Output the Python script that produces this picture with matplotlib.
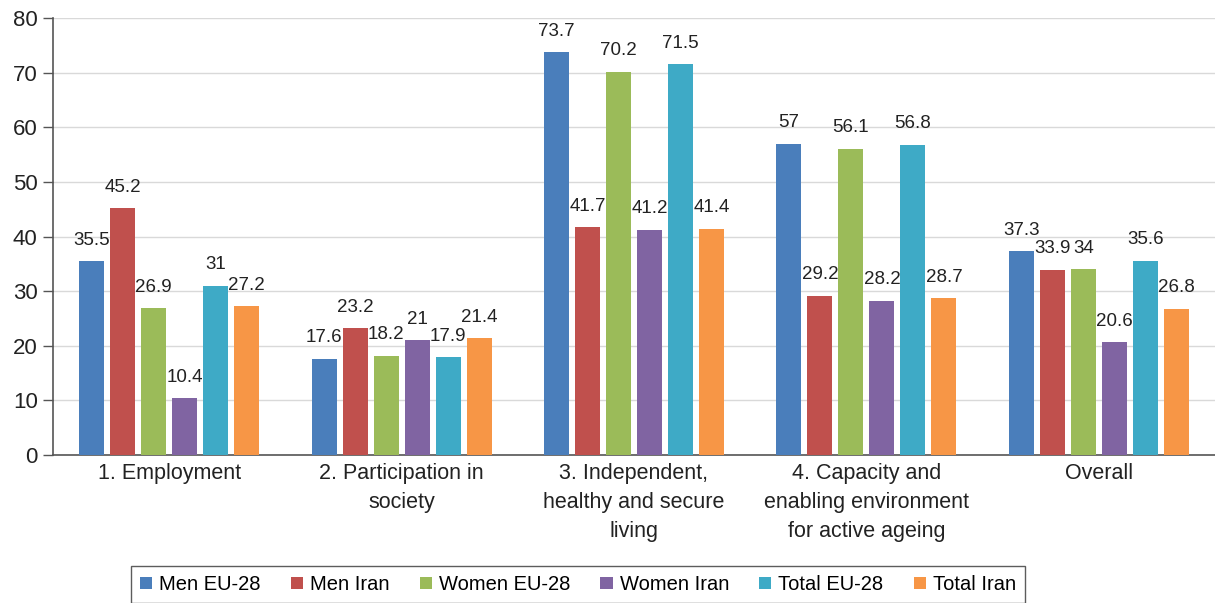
import numpy as np
import matplotlib.pyplot as plt

plt.rcParams['font.family'] = ['Liberation Sans', 'DejaVu Sans']

# Data
categories = ['1. Employment', '2. Participation in\nsociety',
              '3. Independent,\nhealthy and secure\nliving',
              '4. Capacity and\nenabling environment\nfor active ageing',
              'Overall']
series_names = ['Men EU-28', 'Men Iran', 'Women EU-28', 'Women Iran', 'Total EU-28', 'Total Iran']
men_eu = [35.5, 17.6, 73.7, 57, 37.3]
men_iran = [45.2, 23.2, 41.7, 29.2, 33.9]
women_eu = [26.9, 18.2, 70.2, 56.1, 34]
women_iran = [10.4, 21, 41.2, 28.2, 20.6]
total_eu = [31, 17.9, 71.5, 56.8, 35.6]
total_iran = [27.2, 21.4, 41.4, 28.7, 26.8]
colors = ['#4a7ebb', '#c0504d', '#9bbb59', '#8064a2', '#3eaac6', '#f79646']

series = [men_eu, men_iran, women_eu, women_iran, total_eu, total_iran]

fig = plt.figure(figsize=(12.15, 6.03), dpi=100)
ax = fig.add_axes([0.0436, 0.2454, 0.9564, 0.7247])

x = np.arange(len(categories))
step = 0.1334
width = 0.108
for j, (vals, name, c) in enumerate(zip(series, series_names, colors)):
    pos = x + (j - 2.5) * step
    ax.bar(pos, vals, width, color=c, label=name, zorder=3)
    for p, v in zip(pos, vals):
        ax.annotate(f'{v:g}', (p, v), xytext=(0, 9), textcoords='offset points',
                    ha='center', va='bottom', fontsize=13.5, color='#222222')

ax.set_xlim(-0.5, len(categories) - 0.5)
ax.set_ylim(0, 80)
ax.set_yticks(range(0, 81, 10))
ax.set_xticks(x)
ax.set_xticklabels(categories, fontsize=15.5, linespacing=1.5, color='#222222')
ax.tick_params(axis='x', length=0, pad=6)
ax.tick_params(axis='y', labelsize=16, length=7, width=1, color='#555555',
               pad=4, labelcolor='#222222')
ax.grid(axis='y', color='#d9d9d9', linewidth=1, zorder=0)
ax.axhline(80, color='#666666', linewidth=1.2, zorder=1)
for s in ['top', 'right']:
    ax.spines[s].set_visible(False)
for s in ['left', 'bottom']:
    ax.spines[s].set_color('#555555')
    ax.spines[s].set_linewidth(1.2)

leg = fig.legend(loc='upper left', bbox_to_anchor=(131 / 1215, 1 - 566 / 603),
                 ncol=6, fontsize=14.5, frameon=True, fancybox=False,
                 edgecolor='#333333', handlelength=0.6, handleheight=0.6,
                 handletextpad=0.35, columnspacing=1.5, borderpad=0.45,
                 borderaxespad=0)
leg.get_frame().set_linewidth(1.0)

fig.savefig('out.png', dpi=100)
